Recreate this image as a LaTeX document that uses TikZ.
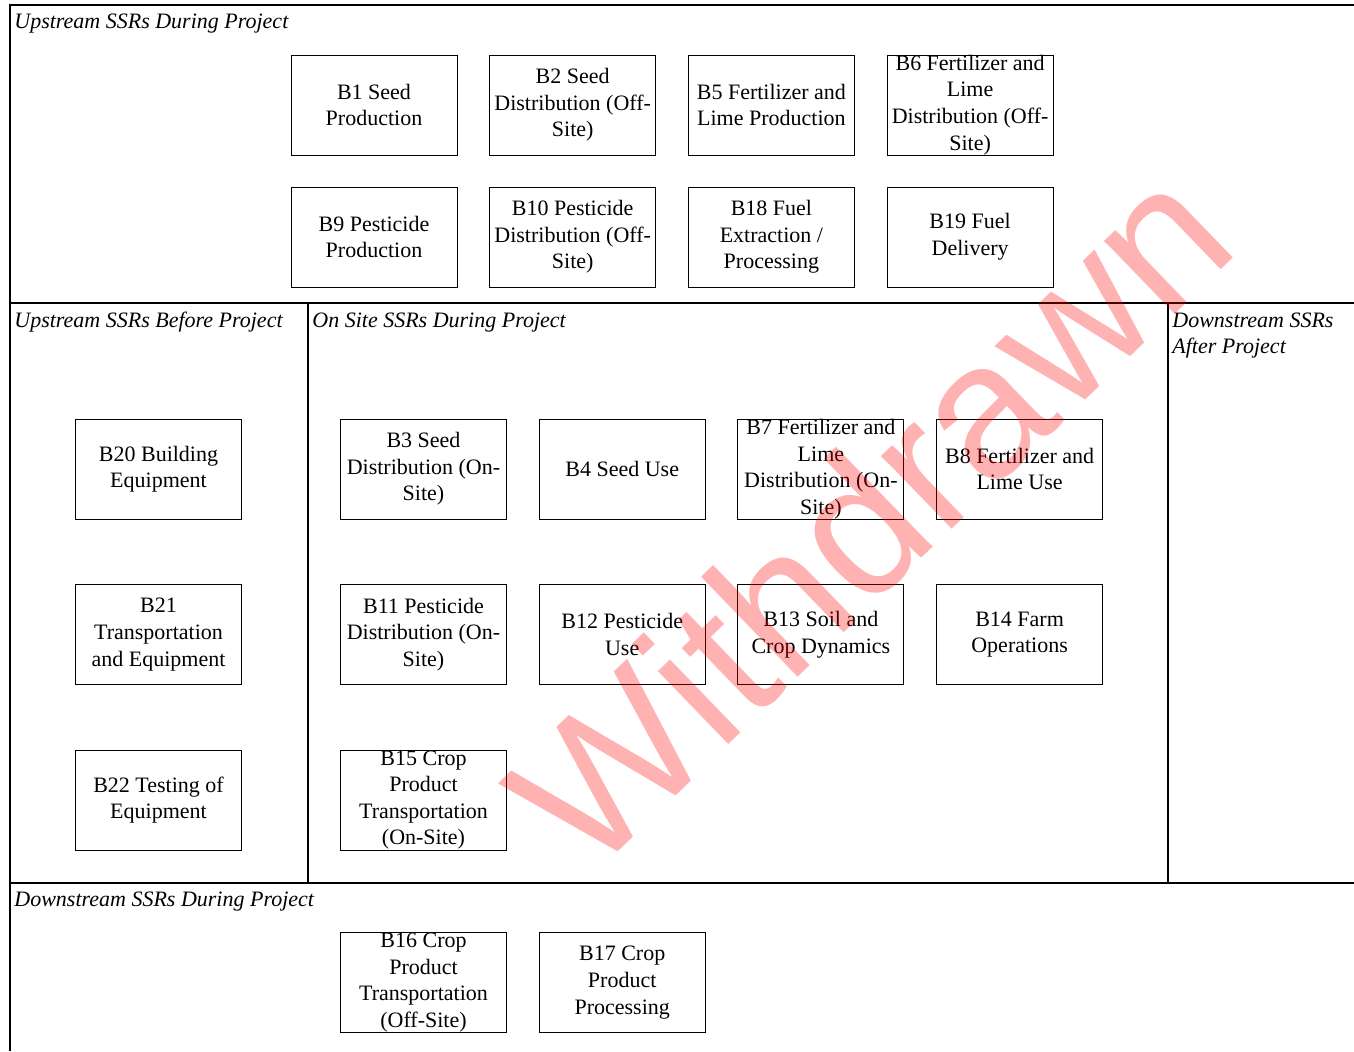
\documentclass[tikz,border=0pt]{standalone}
\usepackage{fontspec}
\setmainfont{Liberation Serif}
\newfontfamily\wmfont{Liberation Sans}
\tikzstyle{ssr} = [rectangle, minimum width=83pt, minimum height=50pt, inner sep=0pt, text centered, align=center, draw=black, line width=0.5pt, font=\fontsize{11}{13.3}\selectfont]
\tikzstyle{zone} = [anchor=base west, inner sep=0pt, align=left, font=\fontsize{11}{13}\selectfont\itshape]
\tikzstyle{frame} = [line width=0.75pt]
\tikzstyle{stamp} = [rotate=44, text=red, text opacity=0.3, inner sep=0pt, font=\wmfont\fontsize{96}{96}\selectfont]

\begin{document}
\begin{tikzpicture}[x=0.5pt, y=-0.5pt, node distance=99.35pt]
	\useasboundingbox (0,0) rectangle (1354,1051);

	\draw[frame] (10,1051) -- (10,5) -- (1354,5);
	\draw[frame] (10,303) -- (1354,303);
	\draw[frame] (10,883) -- (1354,883);
	\draw[frame] (308,303) -- (308,883);
	\draw[frame] (1168,303) -- (1168,883);

	\node (upduring) [zone] at (14,28) {Upstream SSRs During Project};
	\node (upbefore) [zone] at (14,327) {Upstream SSRs Before Project};
	\node (onsite) [zone] at (312,327) {On Site SSRs During Project};
	\node (downafter) [zone] at (1172,353) {Downstream SSRs\\After Project};
	\node (downduring) [zone] at (14,906) {Downstream SSRs During Project};

	\node (b1) [ssr] at (374,105) {B1 Seed\\Production};
	\node (b2) [ssr, right of=b1] {B2 Seed\\Distribution (Off-\\Site)};
	\node (b5) [ssr, right of=b2] {B5 Fertilizer and\\Lime Production};
	\node (b6) [ssr, right of=b5] {B6 Fertilizer and\\Lime\\Distribution (Off-\\Site)};
	\node (b9) [ssr, node distance=66pt, below of=b1] {B9 Pesticide\\Production};
	\node (b10) [ssr, right of=b9] {B10 Pesticide\\Distribution (Off-\\Site)};
	\node (b18) [ssr, right of=b10] {B18 Fuel\\Extraction /\\Processing};
	\node (b19) [ssr, right of=b18] {B19 Fuel\\Delivery};

	\node (b20) [ssr] at (158.5,469) {B20 Building\\Equipment};
	\node (b21) [ssr, node distance=82.75pt, below of=b20] {B21\\Transportation\\and Equipment};
	\node (b22) [ssr, node distance=82.75pt, below of=b21] {B22 Testing of\\Equipment};

	\node (b3) [ssr] at (423.5,469) {B3 Seed\\Distribution (On-\\Site)};
	\node (b4) [ssr, right of=b3] {B4 Seed Use};
	\node (b7) [ssr, right of=b4] {B7 Fertilizer and\\Lime\\Distribution (On-\\Site)};
	\node (b8) [ssr, right of=b7] {B8 Fertilizer and\\Lime Use};
	\node (b11) [ssr, node distance=82.75pt, below of=b3] {B11 Pesticide\\Distribution (On-\\Site)};
	\node (b12) [ssr, right of=b11] {B12 Pesticide\\Use};
	\node (b13) [ssr, right of=b12] {B13 Soil and\\Crop Dynamics};
	\node (b14) [ssr, right of=b13] {B14 Farm\\Operations};
	\node (b15) [ssr, node distance=82.75pt, below of=b11] {B15 Crop\\Product\\Transportation\\(On-Site)};

	\node (b16) [ssr] at (423.5,982.5) {B16 Crop\\Product\\Transportation\\(Off-Site)};
	\node (b17) [ssr, right of=b16] {B17 Crop\\Product\\Processing};

	\node (withdrawn) [stamp] at (868,515) {Withdrawn};
\end{tikzpicture}
\end{document}
